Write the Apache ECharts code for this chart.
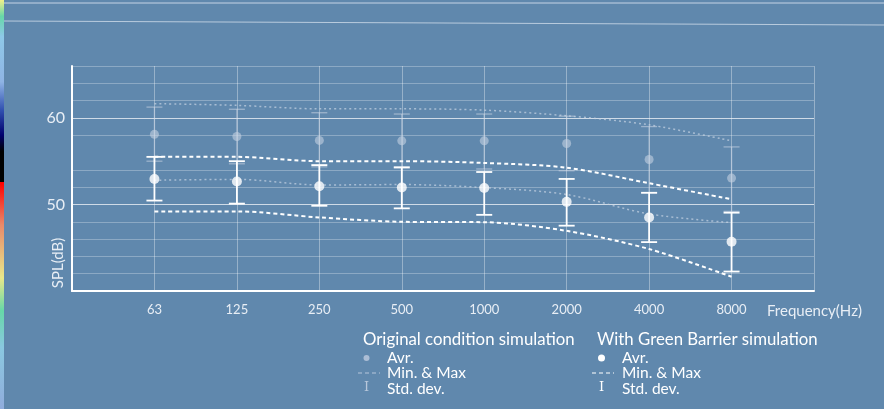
<!DOCTYPE html>
<html><head><meta charset="utf-8">
<script src="https://cdn.jsdelivr.net/npm/echarts@6/dist/echarts.min.js"></script>
<style>html,body{margin:0;padding:0;background:#6088ad;}#c{width:884px;height:409px;}</style>
</head><body><div id="c"></div>
<script>
// ---- data ----
var categories = ['63','125','250','500','1000','2000','4000','8000'];
var yTickLabels = [50, 60];

var origAvg     = [58.1, 57.85, 57.4, 57.35, 57.35, 57.05, 55.2, 53.05];
var origMax     = [61.65, 61.45, 61.05, 61.05, 60.9, 60.25, 59.2, 57.35];
var origMin     = [52.8, 52.9, 52.25, 52.3, 51.95, 51.15, 48.9, 47.9];
var origStdHigh = [61.25, 61.0, 60.6, 60.45, 60.45, 60.2, 59.0, 56.65];
var origStdLow  = [55.0, 54.7, 54.35, 54.2, 54.1, 53.9, 51.35, 49.2];

var greenAvg     = [52.95, 52.65, 52.1, 51.95, 51.9, 50.3, 48.5, 45.7];
var greenMax     = [55.5, 55.5, 55.0, 55.0, 54.8, 54.25, 52.45, 50.6];
var greenMin     = [49.2, 49.2, 48.5, 48.0, 47.95, 46.95, 44.85, 41.65];
var greenStdHigh = [55.5, 55.0, 54.55, 54.3, 53.75, 52.95, 51.35, 49.05];
var greenStdLow  = [50.45, 50.1, 49.85, 49.55, 48.8, 47.55, 45.65, 42.25];

// ---- helpers ----
function pts(arr){ return arr.map(function(v,i){ return [i+1, v]; }); }
function bars(lo, hi){ return lo.map(function(v,i){ return [i+1, v, hi[i]]; }); }
function errRender(color, width, capW){
  return function(params, api){
    var x = api.value(0), lo = api.value(1), hi = api.value(2);
    var a = api.coord([x, hi]), b = api.coord([x, lo]);
    var hw = capW/2;
    var st = {stroke: color, lineWidth: width};
    return {type:'group', children:[
      {type:'line', shape:{x1:a[0],y1:a[1],x2:b[0],y2:b[1]}, style:st},
      {type:'line', shape:{x1:a[0]-hw,y1:a[1],x2:a[0]+hw,y2:a[1]}, style:st},
      {type:'line', shape:{x1:b[0]-hw,y1:b[1],x2:b[0]+hw,y2:b[1]}, style:st}
    ]};
  };
}

var GRAY = 'rgba(205,215,230,0.55)';
var GRAYLINE = 'rgba(200,212,228,0.7)';
var FONT = 'Lato';

// split line colours for ticks 40..66 step 2
var splitColors = [];
for (var t = 40; t <= 66; t += 2) {
  if (t === 40 || t === 56) splitColors.push('rgba(255,255,255,0)');
  else if (t === 50 || t === 60) splitColors.push('rgba(255,255,255,0.7)');
  else splitColors.push('rgba(255,255,255,0.28)');
}

var chart = echarts.init(document.getElementById('c'), null, {renderer:'canvas'});
chart.setOption({
  backgroundColor: '#6088ad',
  animation: false,
  grid: {left: 72, right: 70, top: 66, bottom: 118, containLabel: false},
  xAxis: {
    type: 'value', min: 0, max: 9, interval: 1,
    axisLine: {show: true, lineStyle: {color: '#ffffff', width: 2}},
    axisTick: {show: false},
    axisLabel: {
      color: '#e8eef5', fontSize: 13, fontFamily: FONT, margin: 12,
      formatter: function(v){ return (v >= 1 && v <= categories.length) ? categories[v-1] : ''; }
    },
    splitLine: {show: true, lineStyle: {color: 'rgba(255,255,255,0.35)', width: 1}}
  },
  yAxis: {
    type: 'value', min: 40, max: 66, interval: 2,
    axisLine: {show: true, lineStyle: {color: '#ffffff', width: 2}},
    axisTick: {show: false},
    axisLabel: {
      color: '#e8eef5', fontSize: 16, fontFamily: FONT, margin: 7,
      formatter: function(v){ return yTickLabels.indexOf(v) >= 0 ? String(v) : ''; }
    },
    splitLine: {show: true, lineStyle: {color: splitColors, width: 1}}
  },
  series: [
    {type:'line', data: pts(origMax), smooth: 0.3, symbol:'none', z: 2,
     lineStyle:{color: GRAYLINE, width: 1.5, type: [2,3]}},
    {type:'line', data: pts(origMin), smooth: 0.3, symbol:'none', z: 2,
     lineStyle:{color: GRAYLINE, width: 1.5, type: [2,3]}},
    {type:'custom', data: bars(origStdLow, origStdHigh), renderItem: errRender(GRAY, 1.3, 16), z: 3},
    {type:'scatter', data: pts(origAvg), symbol:'circle', symbolSize: 9, z: 4,
     itemStyle:{color: 'rgba(195,208,225,0.75)'}},
    {type:'line', data: pts(greenMax), smooth: 0.3, symbol:'none', z: 5,
     lineStyle:{color: '#ffffff', width: 2, type: [4,3]}},
    {type:'line', data: pts(greenMin), smooth: 0.3, symbol:'none', z: 5,
     lineStyle:{color: '#ffffff', width: 2, type: [4,3]}},
    {type:'custom', data: bars(greenStdLow, greenStdHigh), renderItem: errRender('#ffffff', 1.8, 16), z: 6},
    {type:'scatter', data: pts(greenAvg), symbol:'circle', symbolSize: 10, z: 7,
     itemStyle:{color: '#ffffff'}}
  ],
  graphic: [
    // decorative left colour strip
    {type:'rect', shape:{x:0,y:0,width:4,height:409}, z: 100,
     style:{fill: new echarts.graphic.LinearGradient(0,0,0,1,[
       {offset:0, color:'#f2f08a'},{offset:0.04, color:'#66d8a8'},{offset:0.09, color:'#8ec8e8'},
       {offset:0.2, color:'#8fb4e4'},{offset:0.27, color:'#3050b0'},{offset:0.33, color:'#00006e'},
       {offset:0.37, color:'#000000'},{offset:0.444, color:'#000000'},{offset:0.446, color:'#ff0000'},
       {offset:0.55, color:'#e88a6a'},{offset:0.68, color:'#e8e88a'},{offset:0.76, color:'#66d8a8'},
       {offset:0.85, color:'#8ac8e0'},{offset:1, color:'#90acdc'}])}},
    {type:'line', shape:{x1:0,y1:3,x2:884,y2:3}, style:{stroke:'rgba(215,225,238,0.85)', lineWidth:1}},
    {type:'line', shape:{x1:4,y1:21,x2:884,y2:25}, style:{stroke:'rgba(215,225,238,0.75)', lineWidth:1}},
    // axis titles
    {type:'text', x: 58, y: 263, rotation: Math.PI/2,
     style:{text:'SPL(dB)', fill:'#e8eef5', font:'15px Lato', align:'center', verticalAlign:'middle'}},
    {type:'text', x: 767, y: 311,
     style:{text:'Frequency(Hz)', fill:'#e8eef5', font:'15px Lato', align:'left', verticalAlign:'middle'}},
    // legend: original condition
    {type:'text', x: 363, y: 340, style:{text:'Original condition simulation', fill:'#ffffff', font:'16.8px Lato', verticalAlign:'middle'}},
    {type:'circle', shape:{cx:366.5, cy:358, r:3}, style:{fill:'rgba(190,203,222,0.8)'}},
    {type:'text', x: 387, y: 358, style:{text:'Avr.', fill:'#ffffff', font:'15.5px Lato', verticalAlign:'middle'}},
    {type:'line', shape:{x1:358,y1:373,x2:380,y2:373}, style:{stroke:'rgba(205,215,230,0.8)', lineWidth:1, lineDash:[4,3]}},
    {type:'text', x: 387, y: 373, style:{text:'Min. & Max', fill:'#ffffff', font:'15.5px Lato', verticalAlign:'middle'}},
    {type:'text', x: 366.5, y: 388, style:{text:'I', fill:'rgba(205,215,230,0.8)', font:'13px "DejaVu Serif"', align:'center', verticalAlign:'middle'}},
    {type:'text', x: 387, y: 389, style:{text:'Std. dev.', fill:'#ffffff', font:'15.5px Lato', verticalAlign:'middle'}},
    // legend: green barrier
    {type:'text', x: 597, y: 340, style:{text:'With Green Barrier simulation', fill:'#ffffff', font:'16.8px Lato', verticalAlign:'middle'}},
    {type:'circle', shape:{cx:601.5, cy:358, r:3.5}, style:{fill:'#ffffff'}},
    {type:'text', x: 622, y: 358, style:{text:'Avr.', fill:'#ffffff', font:'15.5px Lato', verticalAlign:'middle'}},
    {type:'line', shape:{x1:592,y1:373,x2:614,y2:373}, style:{stroke:'#ffffff', lineWidth:1.2, lineDash:[4,3]}},
    {type:'text', x: 622, y: 373, style:{text:'Min. & Max', fill:'#ffffff', font:'15.5px Lato', verticalAlign:'middle'}},
    {type:'text', x: 601.5, y: 388, style:{text:'I', fill:'#ffffff', font:'13px "DejaVu Serif"', align:'center', verticalAlign:'middle'}},
    {type:'text', x: 622, y: 389, style:{text:'Std. dev.', fill:'#ffffff', font:'15.5px Lato', verticalAlign:'middle'}}
  ]
});
</script>
</body></html>
